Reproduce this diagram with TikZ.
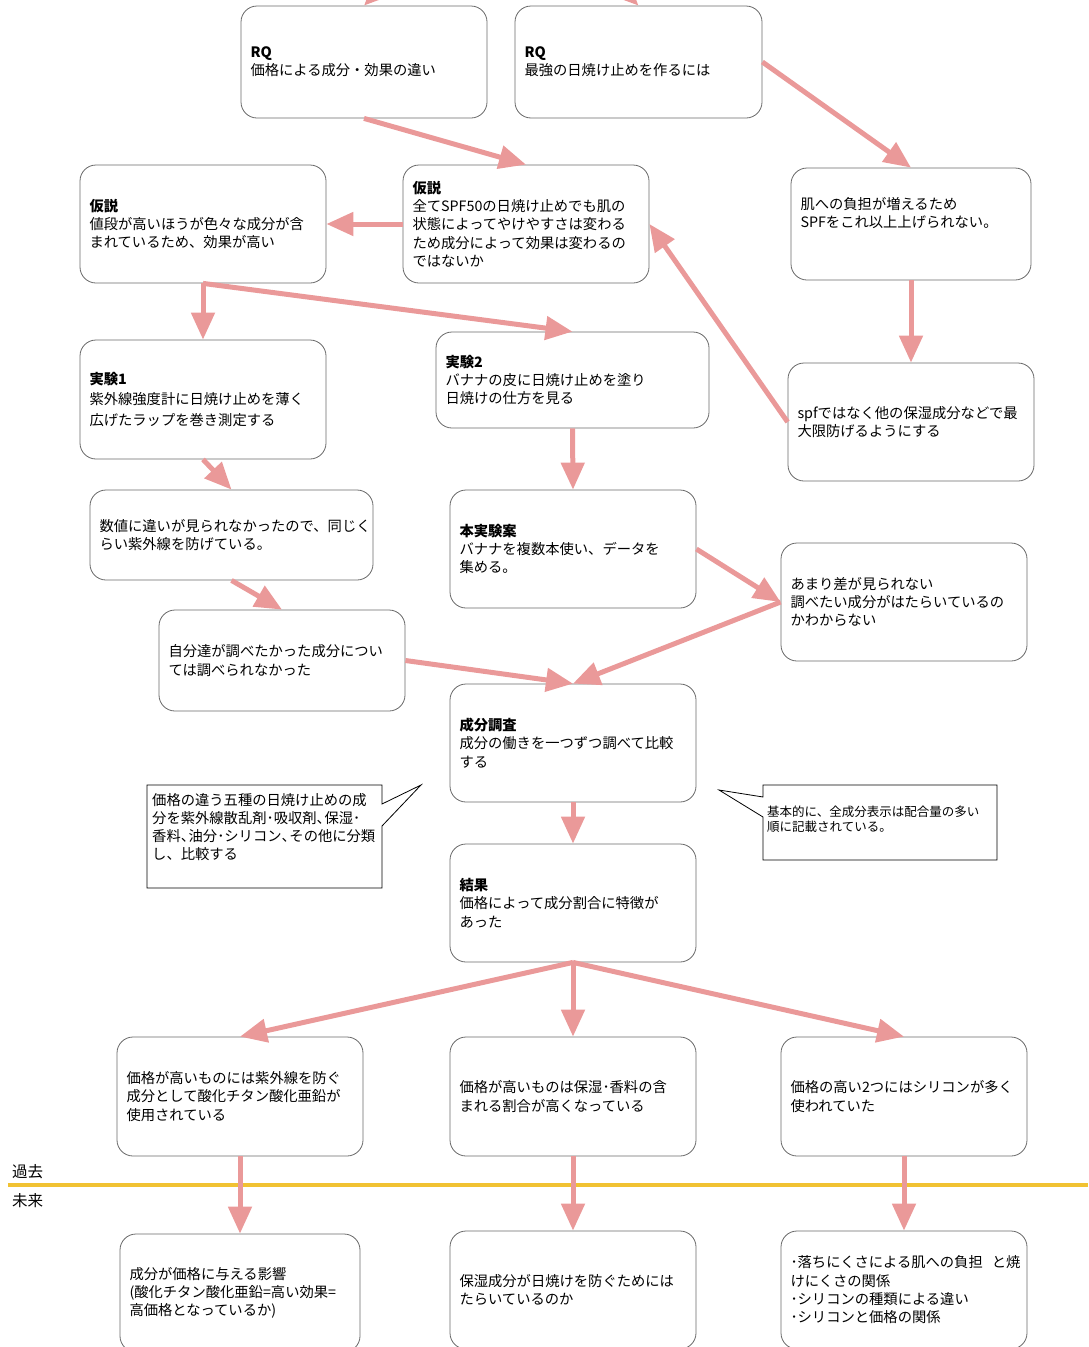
\documentclass[tikz,border=0pt]{standalone}
\usepackage{fontspec}
\setmainfont{Noto Sans CJK JP}
\usetikzlibrary{arrows.meta}
\definecolor{arrowpink}{RGB}{234,153,153}
\definecolor{lineyellow}{RGB}{241,194,50}
\definecolor{boxgray}{RGB}{105,105,105}
\newcommand{\narrowcomma}{\makebox[0.55em][l]{、}}

\begin{document}
\begin{tikzpicture}[ x=1pt, y=-1pt,
  box/.style={draw=boxgray, line width=0.8pt, rounded corners=16pt, fill=white, align=left, inner xsep=9.5pt, inner ysep=0pt, font=\fontsize{14.3}{18.3}\selectfont},
  flow/.style={arrowpink, line width=5pt, -{Triangle[length=27pt,width=23pt]}},
  note/.style={align=left, inner sep=0pt, anchor=base west} ]

\useasboundingbox (0,0) rectangle (1088,1347);
\clip (0,0) rectangle (1088,1347);

\coordinate (theme) at (501,-131);

\node[box, text width=227pt, minimum height=112pt] (rq1) at (364,62) {\textbf{RQ}\\価格による成分・効果の違い};
\node[box, text width=228pt, minimum height=112pt] (rq2) at (638.5,62) {\textbf{RQ}\\最強の日焼け止めを作るには};

\node[box, text width=227pt, minimum height=118pt] (hypL) at (203,224) {\textbf{仮説}\\値段が高いほうが色々な成分が含\\まれているため、効果が高い};
\node[box, text width=227pt, minimum height=118pt] (hypM) at (526,224) {\textbf{仮説}\\全てSPF50の日焼け止めでも肌の\\状態によってやけやすさは変わる\\ため成分によって効果は変わるの\\ではないか};
\node[box, text width=221pt, minimum height=112pt] (burden) at (911,224) {肌への負担が増えるため\\SPFをこれ以上上げられない。\\\strut};

\node[box, text width=227pt, minimum height=119pt] (exp1) at (203,399.5) {\textbf{実験1}\\[2pt]紫外線強度計に日焼け止めを薄く\\[3pt]広げたラップを巻き測定する};
\node[box, text width=254pt, minimum height=96pt] (exp2) at (572.5,380) {\textbf{実験2}\\バナナの皮に日焼け止めを塗り\\日焼けの仕方を見る};
\node[box, text width=227pt, minimum height=118pt] (spf) at (911,422) {spfではなく他の保湿成分などで最\\大限防げるようにする};

\node[box, text width=264pt, minimum height=90pt] (same) at (231.5,535) {数値に違いが見られなかったので、同じく\\らい紫外線を防げている。};
\node[box, text width=227pt, minimum height=118pt] (plan) at (573,549) {\textbf{本実験案}\\バナナを複数本使い、データを\\集める。};
\node[box, text width=227pt, minimum height=118pt] (nodiff) at (904,602) {あまり差が見られない\\調べたい成分がはたらいているの\\かわからない};
\node[box, text width=227pt, minimum height=101pt] (notyet) at (282,660.5) {自分達が調べたかった成分につい\\ては調べられなかった};

\node[box, text width=227pt, minimum height=118pt] (survey) at (573,743) {\textbf{成分調査}\\成分の働きを一つずつ調べて比較\\する};
\node[box, text width=227pt, minimum height=118pt] (result) at (573,903) {\textbf{結果}\\価格によって成分割合に特徴が\\あった};

\node[box, text width=227pt, minimum height=119pt] (found1) at (240,1096.5) {価格が高いものには紫外線を防ぐ\\成分として酸化チタン酸化亜鉛が\\使用されている};
\node[box, text width=227pt, minimum height=119pt] (found2) at (573,1096.5) {価格が高いものは保湿･香料の含\\まれる割合が高くなっている};
\node[box, text width=227pt, minimum height=119pt] (found3) at (904,1096.5) {価格の高い2つにはシリコンが多く\\使われていた};

\node[box, text width=221pt, minimum height=118pt] (next1) at (240,1293) {成分が価格に与える影響\\(酸化チタン酸化亜鉛=高い効果=\\高価格となっているか)};
\node[box, text width=227pt, minimum height=118pt] (next2) at (573,1290) {保湿成分が日焼けを防ぐためには\\たらいているのか};
\node[box, text width=227pt, minimum height=118pt] (next3) at (904,1290) {･落ちにくさによる肌への負担\kern9pt と焼\\けにくさの関係\\･シリコンの種類による違い\\･シリコンと価格の関係};

\draw[black, line width=0.8pt, fill=white] (147,785) -- (382,785) -- (382,804) -- (421,785) -- (382,826) -- (382,888) -- (147,888) -- cycle;
\node[note, font=\fontsize{14.3}{18}\selectfont] (sortnote) at (152,859.5) {価格の違う五種の日焼け止めの成\\分を紫外線散乱剤･吸収剤\narrowcomma 保湿･\\香料\narrowcomma 油分･シリコン\narrowcomma その他に分類\\し、比較する};

\draw[black, line width=0.8pt, fill=white] (763,785) -- (997,785) -- (997,860) -- (763,860) -- (763,817) -- (719,790) -- (763,797) -- cycle;
\node[note, font=\fontsize{12.5}{15}\selectfont] (ordernote) at (767,831.7) {基本的に、全成分表示は配合量の多い\\順に記載されている。};

\draw[lineyellow, line width=4pt] (8,1185) -- (1088,1185);
\node[note, font=\fontsize{15.5}{18}\selectfont] (past) at (12,1177) {過去};
\node[note, font=\fontsize{15.5}{18}\selectfont] (future) at (12,1206) {未来};

\draw[flow] (theme) -- (rq1.north);
\draw[flow] (theme) -- (rq2.north);
\draw[flow] (rq1.south) -- (hypM.north);
\draw[flow] (rq2.east) -- (burden.north);
\draw[flow] (hypM.west) -- (hypL.east);
\draw[flow] (hypL.south) -- (exp1.north);
\draw[flow] (hypL.south) -- (exp2.north);
\draw[flow] (burden.south) -- (spf.north);
\draw[flow] (spf.west) -- (hypM.east);
\draw[flow] (exp1.south) -- (same.north);
\draw[flow] (exp2.south) -- (plan.north);
\draw[flow] (same.south) -- (notyet.north);
\draw[flow] (plan.east) -- (nodiff.west);
\draw[flow] (nodiff.west) -- (survey.north);
\draw[flow] (notyet.east) -- (survey.north);
\draw[flow] (survey.south) -- (result.north);
\draw[flow] (result.south) -- (found1.north);
\draw[flow] (result.south) -- (found2.north);
\draw[flow] (result.south) -- (found3.north);
\draw[flow] (found1.south) -- (next1.north);
\draw[flow] (found2.south) -- (next2.north);
\draw[flow] (found3.south) -- (next3.north);

\end{tikzpicture}
\end{document}
